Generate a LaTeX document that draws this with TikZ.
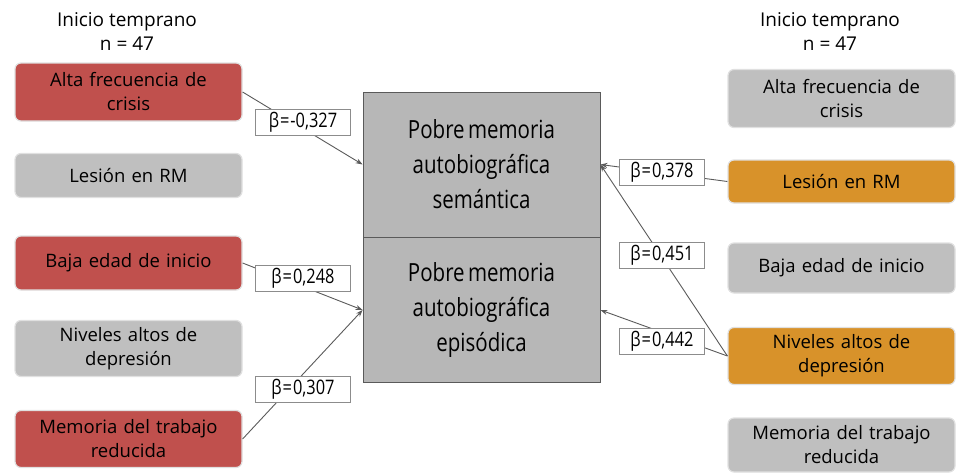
\documentclass[tikz,border=0pt]{standalone}
\usepackage{fontspec}
\setmainfont{Open Sans}
\newfontfamily\condfont[FakeStretch=0.82]{Open Sans}
\usetikzlibrary{arrows.meta}
\definecolor{redbox}{HTML}{C0504D}
\definecolor{orangebox}{HTML}{D8922A}
\definecolor{graybox}{HTML}{BFBFBF}
\definecolor{centerbox}{HTML}{B7B7B7}
\definecolor{linecol}{HTML}{5A5A5A}
\tikzset{
  factor/.style={rectangle, rounded corners=6pt, minimum width=227pt, text width=224pt,
    align=center, font=\fontsize{18.5}{24}\selectfont, inner sep=1pt,
    draw=black!12, line width=1.2pt, text=black},
  redf/.style={factor, fill=redbox},
  orangef/.style={factor, fill=orangebox},
  grayf/.style={factor, fill=graybox},
  outcome/.style={rectangle, fill=centerbox, draw=linecol, line width=0.8pt,
    minimum width=237pt, minimum height=145pt, align=center,
    font=\condfont\fontsize{25}{35}\selectfont, text=black},
  beta/.style={rectangle, fill=white, draw=black!45, line width=0.6pt,
    minimum width=95pt, minimum height=26pt, inner sep=1pt,
    font=\condfont\fontsize{20}{20}\selectfont},
  header/.style={align=center, font=\fontsize{19}{24}\selectfont, text=black},
  conn/.style={draw=linecol, line width=0.9pt, -{Stealth[length=7pt,width=5pt]}}
}
\begin{document}
\begin{tikzpicture}[x=1pt,y=-1pt]
\useasboundingbox (0,0) rectangle (958,474);
% headers
\node[header] (hl) at (127,32) {Inicio temprano\\n = 47};
\node[header] (hr) at (830,32) {Inicio temprano\\n = 47};
% left column
\node[redf, minimum height=58pt] (l1) at (128.5,92) {Alta frecuencia de\\crisis};
\node[grayf, minimum height=44pt] (l2) at (128.5,175.5) {Lesión en RM};
\node[redf, minimum height=54pt] (l3) at (128.5,263) {Baja edad de inicio};
\node[grayf, minimum height=56pt] (l4) at (128.5,348.5) {Niveles altos de\\depresión};
\node[redf, minimum height=57pt] (l5) at (128.5,439) {Memoria del trabajo\\reducida};
% right column
\node[grayf, minimum height=58pt] (r1) at (841.5,98.5) {Alta frecuencia de\\crisis};
\node[orangef, minimum height=43pt] (r2) at (841.5,181.5) {Lesión en RM};
\node[grayf, minimum height=50pt] (r3) at (841.5,268) {Baja edad de inicio};
\node[orangef, minimum height=57pt] (r4) at (841.5,356) {Niveles altos de\\depresión};
\node[grayf, minimum height=54pt] (r5) at (841.5,445) {Memoria del trabajo\\reducida};
% outcomes
\node[outcome] (sem) at (481.5,164.5) {Pobre\hspace{-2pt} memoria\\autobiográfica\\semántica};
\node[outcome] (epi) at (481.5,310) {Pobre\hspace{-2pt} memoria\\autobiográfica\\episódica};
% connectors
\draw[conn] (l1.east) -- (sem.west);
\draw[conn] (l3.east) -- (epi.west);
\draw[conn] (l5.east) -- (epi.west);
\draw[conn] (r2.west) -- (sem.east);
\draw[conn] (r4.west) -- (sem.east);
\draw[conn] (r4.west) -- (epi.east);
% beta labels
\node[beta] (b1) at (303,122) {β\hspace{1pt}=\hspace{1pt}-0,327};
\node[beta] (b2) at (303,278) {β\hspace{1pt}=\hspace{1pt}0,248};
\node[beta] (b3) at (303,389) {β\hspace{1pt}=\hspace{1pt}0,307};
\node[beta, minimum width=85pt] (b4) at (662,172) {β\hspace{1pt}=\hspace{1pt}0,378};
\node[beta, minimum width=85pt] (b5) at (662,255) {β\hspace{1pt}=\hspace{1pt}0,451};
\node[beta, minimum width=85pt] (b6) at (662,341) {β\hspace{1pt}=\hspace{1pt}0,442};
\end{tikzpicture}
\end{document}
